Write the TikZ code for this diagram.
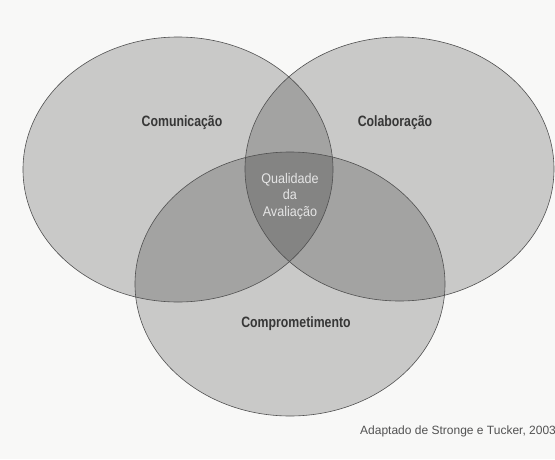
\documentclass[tikz,border=0pt]{standalone}
\usepackage{fontspec}
\setmainfont{Liberation Sans}
\newfontfamily\narrowfont[FakeStretch=0.82]{Liberation Sans}
\newfontfamily\centerfont[FakeStretch=0.9]{Liberation Sans}
\usepackage{tikz}
\usetikzlibrary{positioning}

\definecolor{paper}{RGB}{248,248,247}
\definecolor{rim}{RGB}{80,80,80}
\definecolor{ink}{RGB}{55,55,55}

\begin{document}
\begin{tikzpicture}[
  x=1pt, y=-1pt,
  area/.style={fill=black, fill opacity=0.19},
  outline/.style={draw=rim, line width=0.6pt},
  setlabel/.style={font=\narrowfont\bfseries\fontsize{15}{17}\selectfont, text=ink, inner sep=0pt},
  core/.style={font=\centerfont\fontsize{14}{16.5}\selectfont, text=white!90!black, align=center, inner sep=0pt},
  source/.style={font=\fontsize{12}{14}\selectfont, text=black!68, inner sep=0pt, anchor=base west}
]
\fill[paper] (0,0) rectangle (555,459);
\useasboundingbox (0,0) rectangle (555,459);
\fill[area] (178,169.5) ellipse [x radius=155, y radius=132.5];
\fill[area] (399.5,169) ellipse [x radius=154.5, y radius=132];
\fill[area] (290,284) ellipse [x radius=155, y radius=132];
\draw[outline] (178,169.5) ellipse [x radius=155, y radius=132.5];
\draw[outline] (399.5,169) ellipse [x radius=154.5, y radius=132];
\draw[outline] (290,284) ellipse [x radius=155, y radius=132];
\node[setlabel] (comunicacao) at (182,123) {Comunicação};
\node[setlabel] (colaboracao) at (395,123) {Colaboração};
\node[setlabel] (compromisso) at (296,324) {Comprometimento};
\node[core] (qualidade) at (290,196) {Qualidade\\da\\Avaliação};
\node[source] (fonte) at (360,434) {Adaptado de Stronge e Tucker, 2003};
\end{tikzpicture}
\end{document}
